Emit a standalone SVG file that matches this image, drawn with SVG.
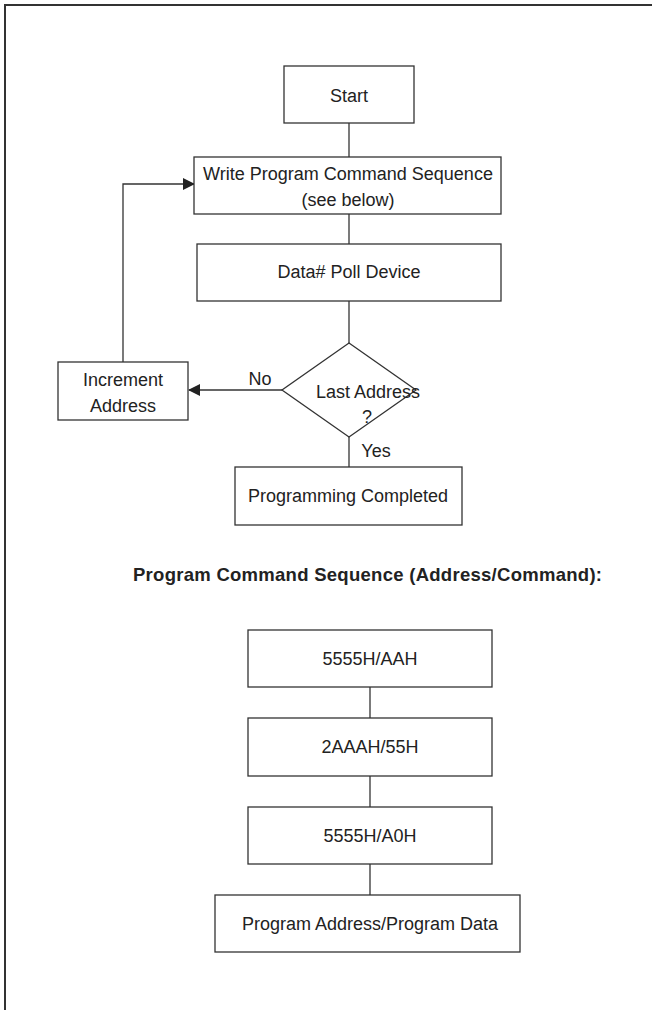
<svg xmlns="http://www.w3.org/2000/svg" width="652" height="1010" viewBox="0 0 652 1010">
<style>
.box{fill:#fff;stroke:#333;stroke-width:1.3}
.t{font-family:"Liberation Sans",Arial,sans-serif;font-size:18px;fill:#222;text-anchor:middle}
.b{font-family:"Liberation Sans",Arial,sans-serif;font-size:18.5px;font-weight:bold;fill:#222}
.c{fill:none;stroke:#333;stroke-width:1.3}
</style>
<defs>
<marker id="ah" markerWidth="12" markerHeight="12" refX="11" refY="6" orient="auto" markerUnits="userSpaceOnUse">
<path d="M0,0 L12,6 L0,12 Z" fill="#222"/>
</marker>
</defs>
<rect x="0" y="0" width="652" height="1010" fill="#fff"/>
<path d="M5,1010 V5 H652" fill="none" stroke="#333" stroke-width="2"/>
<g id="connectors">
<line class="c" x1="349" y1="123" x2="349" y2="157"/>
<line class="c" x1="349" y1="214" x2="349" y2="244"/>
<line class="c" x1="349" y1="301" x2="349" y2="343"/>
<line class="c" x1="349" y1="437" x2="349" y2="467"/>
<line class="c" x1="282" y1="390" x2="189" y2="390" marker-end="url(#ah)"/>
<polyline class="c" points="123,362 123,184 194,184" marker-end="url(#ah)"/>
<line class="c" x1="370" y1="687" x2="370" y2="718"/>
<line class="c" x1="370" y1="776" x2="370" y2="807"/>
<line class="c" x1="370" y1="864" x2="370" y2="895"/>
<text class="t" x="260" y="385">No</text>
<text class="t" x="376" y="457">Yes</text>
</g>
<g id="start"><rect class="box" x="284" y="66" width="130" height="57"/><text class="t" x="349" y="102">Start</text></g>
<g id="write"><rect class="box" x="194" y="157" width="307" height="57"/><text class="t" x="348" y="180">Write Program Command Sequence</text><text class="t" x="348" y="206">(see below)</text></g>
<g id="poll"><rect class="box" x="197" y="244" width="304" height="57"/><text class="t" x="349" y="278">Data# Poll Device</text></g>
<g id="decision"><polygon class="box" points="349,343 416,390 349,437 282,390"/><text class="t" x="368" y="398">Last Address</text><text class="t" x="367" y="423">?</text></g>
<g id="increment"><rect class="box" x="58" y="362" width="130" height="58"/><text class="t" x="123" y="386">Increment</text><text class="t" x="123" y="412">Address</text></g>
<g id="completed"><rect class="box" x="235" y="467" width="227" height="58"/><text class="t" x="348" y="502">Programming Completed</text></g>
<g id="title"><text class="b" x="133" y="581" textLength="469">Program Command Sequence (Address/Command):</text></g>
<g id="seq1"><rect class="box" x="248" y="630" width="244" height="57"/><text class="t" x="370" y="665">5555H/AAH</text></g>
<g id="seq2"><rect class="box" x="248" y="718" width="244" height="58"/><text class="t" x="370" y="753">2AAAH/55H</text></g>
<g id="seq3"><rect class="box" x="248" y="807" width="244" height="57"/><text class="t" x="370" y="842">5555H/A0H</text></g>
<g id="seq4"><rect class="box" x="215" y="895" width="305" height="57"/><text class="t" x="370" y="930">Program Address/Program Data</text></g>
</svg>
